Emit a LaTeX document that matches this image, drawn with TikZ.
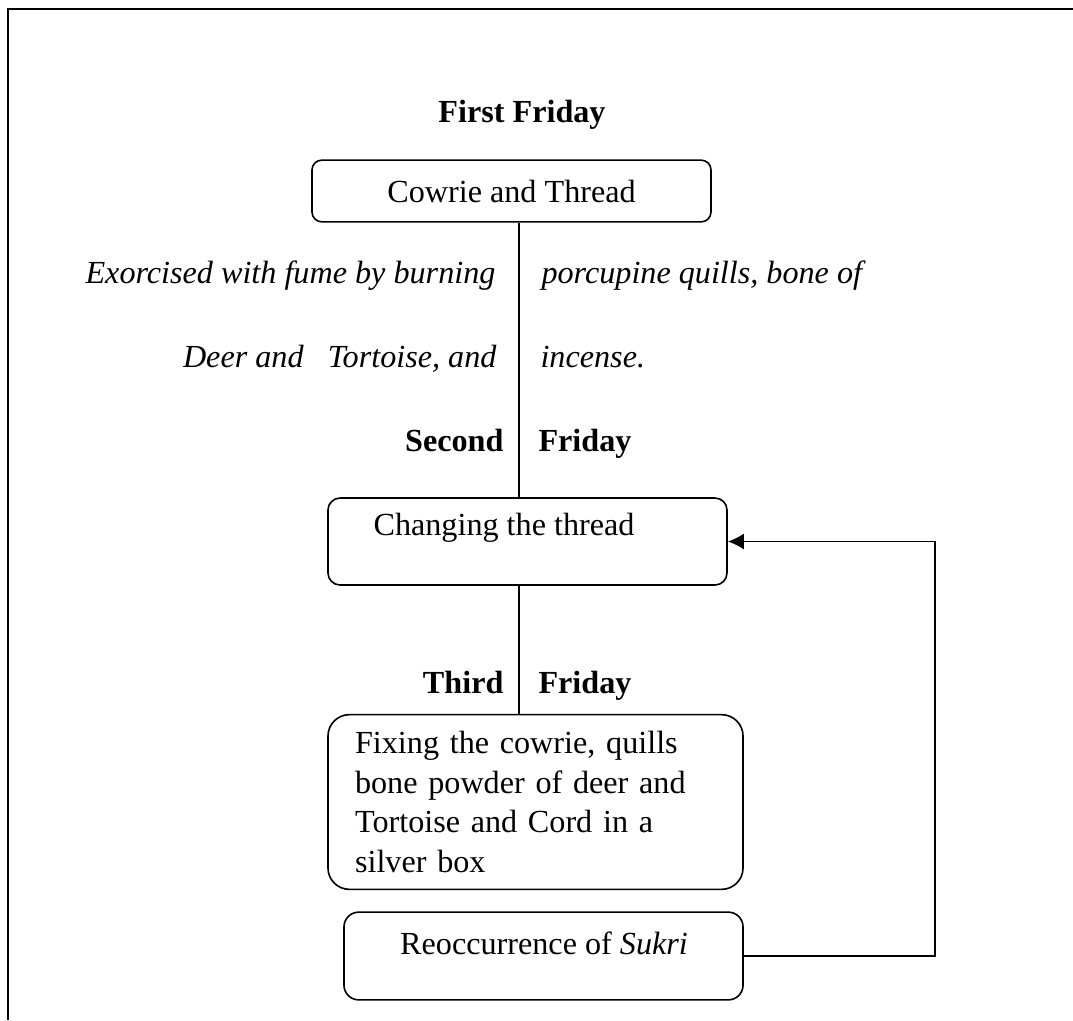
\documentclass[tikz,border=0pt]{standalone}
\usepackage{fontspec}
\setmainfont{Liberation Serif}
\usetikzlibrary{arrows.meta}

\begin{document}
\begin{tikzpicture}[x=0.0131cm, y=-0.0131cm,
  font=\fontsize{12}{14.9}\selectfont,
  box/.style={draw, line width=0.6pt, inner sep=0pt},
  lbl/.style={inner sep=0pt, font=\fontsize{12}{14.9}\selectfont\itshape},
  day/.style={inner sep=0pt, font=\fontsize{12}{14.9}\selectfont\bfseries}]
\useasboundingbox (0,0) rectangle (1073,1020);
\draw[line width=0.8pt] (1073,9) -- (8,9) -- (8,1020);

%%%%%%%%%%%%%%%%%%%%%%%%%%%%
\node[day] (first) at (522,115) {First Friday};
\node[box, rounded corners=3.7pt, minimum width=5.23cm, minimum height=0.81cm]
  (thread) at (511.5,191) {Cowrie and Thread};

\node[lbl, anchor=base east] (exorcise) at (496,284) {Exorcised with fume by burning};
\node[lbl, anchor=base west] (quills) at (541,284) {porcupine quills, bone of};
\node[lbl, anchor=base east] (deer) at (497,367) {Deer and\ \ \ Tortoise, and};
\node[lbl, anchor=base west] (incense) at (540,367) {incense.};

\node[day, anchor=base east] (second) at (504,451) {Second};
\node[day, anchor=base west] (secondfri) at (538,451) {Friday};
%%%%%%%%%%%%%%%%%%%%%%%%%%%%
\node[box, rounded corners=4.5pt, minimum width=5.23cm, minimum height=1.14cm]
  (change) at (527.5,541.5) {};
\node[inner sep=0pt] (changetxt) at (504,528) {Changing the thread};

\node[day, anchor=base east] (third) at (504,693) {Third};
\node[day, anchor=base west] (thirdfri) at (538,693) {Friday};
%%%%%%%%%%%%%%%%%%%%%%%%%%%%
\node[box, rounded corners=8pt, minimum width=5.44cm, minimum height=2.29cm,
  text width=4.73cm, align=left] (fix) at (535.5,802)
  {Fixing the cowrie, quills\\ bone powder of deer and\\ Tortoise and Cord in a\\ silver box};

\node[box, rounded corners=5.5pt, minimum width=5.23cm, minimum height=1.15cm]
  (recur) at (543.5,956) {};
\node[inner sep=0pt] (recurtxt) at (544,943) {Reoccurrence of \textit{Sukri}};
%%%%%%%%%%%%%%%%%%%%%%%%%%%%
\coordinate (spine) at (519,0);
\coordinate (back) at (935,0);
\draw[line width=0.6pt] (thread.south -| spine) -- (change.north -| spine);
\draw[line width=0.6pt] (change.south -| spine) -- (fix.north -| spine);
\draw[line width=0.6pt, -{Latex[length=6pt,width=6pt]}]
  (recur.east) -| (back |- change.east) -- (change.east);
\end{tikzpicture}
\end{document}
